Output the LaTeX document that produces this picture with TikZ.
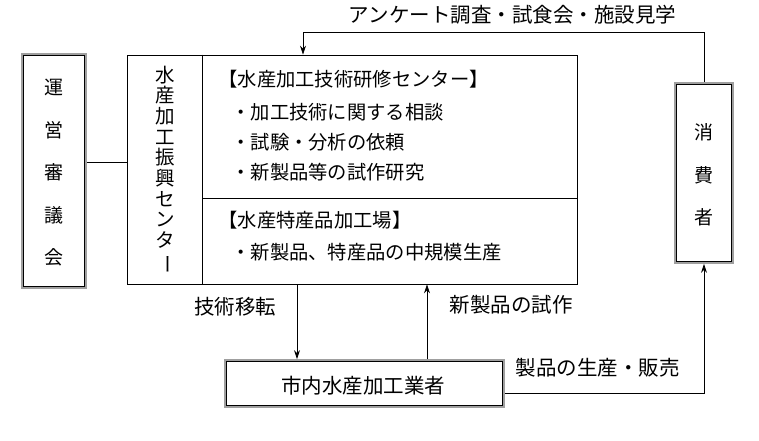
\documentclass[tikz,border=0pt]{standalone}
\usepackage{fontspec}
\setmainfont{Noto Sans CJK JP}
\usetikzlibrary{arrows.meta}
\begin{document}
\begin{tikzpicture}[x=1pt,y=-1pt,line width=0.8pt,
  arr/.style={-{Stealth[length=9pt,width=6pt]}},
  outerbox/.style={draw=gray!75,line width=1.7pt,inner sep=0pt},
  plainbox/.style={draw=black,line width=0.8pt,inner sep=0pt},
  lbl/.style={font=\fontsize{20.5}{24}\selectfont,inner sep=0pt},
  txt/.style={font=\fontsize{19.3}{23}\selectfont,inner sep=0pt,anchor=west},
  vtxt/.style={align=center,inner sep=0pt}
]
\useasboundingbox (0,0) rectangle (759,440);

% boxes
\node[outerbox,minimum width=64pt,minimum height=234pt] (council) at (54,171) {};
\node[plainbox,minimum width=450pt,minimum height=229pt] (main) at (352,169.5) {};
\node[outerbox,minimum width=58pt,minimum height=180pt] (consumer) at (704,173) {};
\node[outerbox,minimum width=279pt,minimum height=47pt] (maker) at (364.5,383.5) {};

\foreach \n in {council,consumer,maker}
  \draw[line width=0.7pt] ([xshift=2.6pt,yshift=-2.6pt]\n.north west) rectangle ([xshift=-2.6pt,yshift=2.6pt]\n.south east);

% inner dividers of main box
\coordinate (divx) at (202,0);
\coordinate (divy) at (0,198);
\draw (divx |- main.north) -- (divx |- main.south);
\draw (divx |- divy) -- (divy -| main.east);

% box texts
\node[vtxt,font=\fontsize{19}{42.5}\selectfont] (counciltxt) at (54,173) {運\\営\\審\\議\\会};
\node[vtxt,font=\fontsize{19}{42.5}\selectfont] (consumertxt) at (704,175) {消\\費\\者};
\node[vtxt,font=\fontsize{19.5}{20.7}\selectfont] (centertxt) at (165,167) {水\\産\\加\\工\\振\\興\\セ\\ン\\タ\\\smash{\rotatebox[origin=c]{-90}{ー}}};
\node[lbl] (makertxt) at (363,386) {市内水産加工業者};

\node[txt] (h1) at (218,79) {【水産加工技術研修センター】};
\node[txt] (i1) at (231,112) {・加工技術に関する相談};
\node[txt] (i2) at (231,142) {・試験・分析の依頼};
\node[txt] (i3) at (231,172) {・新製品等の試作研究};
\node[txt] (h2) at (218,220) {【水産特産品加工場】};
\node[txt] (i4) at (231,252) {・新製品、特産品の中規模生産};

% connectors
\coordinate (cl) at (100,162);
\draw (cl -| council.east) -- (cl -| main.west);

\coordinate (topL) at (303,32);
\draw[arr] (consumer.north) |- (topL) -- (topL |- main.north);

\coordinate (dn) at (297,0);
\draw[arr] (dn |- main.south) -- (dn |- maker.north);
\coordinate (up) at (427,0);
\draw[arr] (up |- maker.north) -- (up |- main.south);

\coordinate (ry) at (704,393);
\draw[arr] (ry -| maker.east) -- (ry) -- (consumer.south);

% labels
\node[lbl] (l1) at (512.5,15) {アンケート調査・試食会・施設見学};
\node[lbl] (l2) at (235,307) {技術移転};
\node[lbl] (l3) at (511,305) {新製品の試作};
\node[lbl] (l4) at (597.5,368) {製品の生産・販売};
\end{tikzpicture}
\end{document}
